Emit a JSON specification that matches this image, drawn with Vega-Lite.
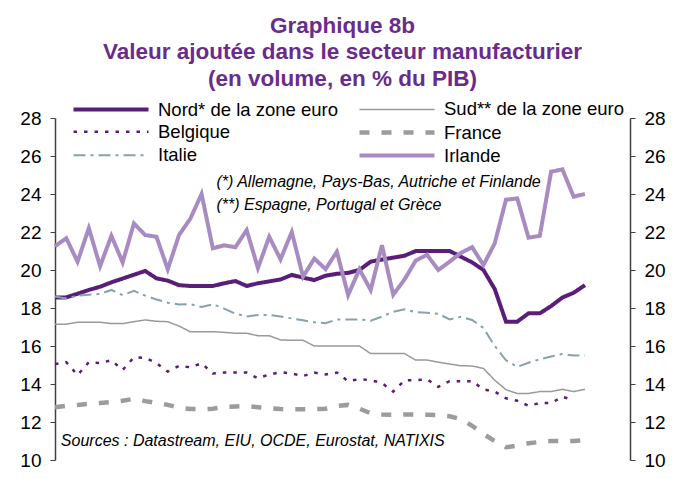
{
  "$schema": "https://vega.github.io/schema/vega-lite/v6.json",
  "width": 575,
  "height": 342,
  "autosize": {"type": "none"},
  "padding": {"left": 55, "top": 118, "right": 54, "bottom": 38},
  "background": "white",
  "config": {"view": {"stroke": null}, "font": "Liberation Sans"},
  "title": {
    "text": ["Graphique 8b", "Valeur ajoutée dans le secteur manufacturier", "(en volume, en % du PIB)"],
    "fontSize": 22.5,
    "font": "Liberation Sans",
    "fontWeight": "bold",
    "color": "#6A2C8C",
    "anchor": "middle",
    "offset": 10,
    "lineHeight": 26.5
  },
  "layer": [
    {
      "data": {
        "values": [
          {"t": 1999.00, "Nord* de la zone euro": 18.55, "Sud** de la zone euro": 17.15, "Belgique": 15.05, "France": 12.78, "Italie": 18.6, "Irlande": 21.25},
          {"t": 1999.25, "Nord* de la zone euro": 18.56, "Sud** de la zone euro": 17.15, "Belgique": 15.15, "France": 12.85, "Italie": 18.5, "Irlande": 21.67},
          {"t": 1999.50, "Nord* de la zone euro": 18.75, "Sud** de la zone euro": 17.25, "Belgique": 14.47, "France": 12.9, "Italie": 18.65, "Irlande": 20.44},
          {"t": 1999.75, "Nord* de la zone euro": 18.95, "Sud** de la zone euro": 17.25, "Belgique": 15.15, "France": 12.95, "Italie": 18.7, "Irlande": 22.2},
          {"t": 2000.00, "Nord* de la zone euro": 19.12, "Sud** de la zone euro": 17.25, "Belgique": 15.1, "France": 13.0, "Italie": 18.74, "Irlande": 20.2},
          {"t": 2000.25, "Nord* de la zone euro": 19.35, "Sud** de la zone euro": 17.18, "Belgique": 15.25, "France": 13.05, "Italie": 18.95, "Irlande": 21.8},
          {"t": 2000.50, "Nord* de la zone euro": 19.55, "Sud** de la zone euro": 17.18, "Belgique": 14.74, "France": 13.12, "Italie": 18.68, "Irlande": 20.4},
          {"t": 2000.75, "Nord* de la zone euro": 19.75, "Sud** de la zone euro": 17.28, "Belgique": 15.4, "France": 13.22, "Italie": 18.9, "Irlande": 22.45},
          {"t": 2001.00, "Nord* de la zone euro": 19.95, "Sud** de la zone euro": 17.37, "Belgique": 15.38, "France": 13.1, "Italie": 18.65, "Irlande": 21.84},
          {"t": 2001.25, "Nord* de la zone euro": 19.56, "Sud** de la zone euro": 17.3, "Belgique": 15.1, "France": 13.0, "Italie": 18.45, "Irlande": 21.75},
          {"t": 2001.50, "Nord* de la zone euro": 19.44, "Sud** de la zone euro": 17.28, "Belgique": 14.65, "France": 12.9, "Italie": 18.28, "Irlande": 20.04},
          {"t": 2001.75, "Nord* de la zone euro": 19.2, "Sud** de la zone euro": 17.05, "Belgique": 14.95, "France": 12.75, "Italie": 18.18, "Irlande": 21.84},
          {"t": 2002.00, "Nord* de la zone euro": 19.16, "Sud** de la zone euro": 16.75, "Belgique": 14.88, "France": 12.68, "Italie": 18.2, "Irlande": 22.7},
          {"t": 2002.25, "Nord* de la zone euro": 19.16, "Sud** de la zone euro": 16.75, "Belgique": 15.09, "France": 12.68, "Italie": 18.05, "Irlande": 24.0},
          {"t": 2002.50, "Nord* de la zone euro": 19.16, "Sud** de la zone euro": 16.75, "Belgique": 14.55, "France": 12.7, "Italie": 18.2, "Irlande": 21.14},
          {"t": 2002.75, "Nord* de la zone euro": 19.3, "Sud** de la zone euro": 16.72, "Belgique": 14.6, "France": 12.78, "Italie": 17.97, "Irlande": 21.3},
          {"t": 2003.00, "Nord* de la zone euro": 19.42, "Sud** de la zone euro": 16.67, "Belgique": 14.6, "France": 12.82, "Italie": 17.7, "Irlande": 21.2},
          {"t": 2003.25, "Nord* de la zone euro": 19.16, "Sud** de la zone euro": 16.67, "Belgique": 14.6, "France": 12.84, "Italie": 17.55, "Irlande": 22.1},
          {"t": 2003.50, "Nord* de la zone euro": 19.3, "Sud** de la zone euro": 16.54, "Belgique": 14.3, "France": 12.78, "Italie": 17.63, "Irlande": 20.1},
          {"t": 2003.75, "Nord* de la zone euro": 19.4, "Sud** de la zone euro": 16.54, "Belgique": 14.5, "France": 12.72, "Italie": 17.63, "Irlande": 21.75},
          {"t": 2004.00, "Nord* de la zone euro": 19.5, "Sud** de la zone euro": 16.32, "Belgique": 14.62, "France": 12.68, "Italie": 17.55, "Irlande": 20.56},
          {"t": 2004.25, "Nord* de la zone euro": 19.74, "Sud** de la zone euro": 16.3, "Belgique": 14.55, "France": 12.67, "Italie": 17.45, "Irlande": 22.0},
          {"t": 2004.50, "Nord* de la zone euro": 19.6, "Sud** de la zone euro": 16.3, "Belgique": 14.42, "France": 12.67, "Italie": 17.35, "Irlande": 19.65},
          {"t": 2004.75, "Nord* de la zone euro": 19.47, "Sud** de la zone euro": 16.0, "Belgique": 14.6, "France": 12.67, "Italie": 17.25, "Irlande": 20.6},
          {"t": 2005.00, "Nord* de la zone euro": 19.7, "Sud** de la zone euro": 16.0, "Belgique": 14.5, "France": 12.7, "Italie": 17.2, "Irlande": 20.05},
          {"t": 2005.25, "Nord* de la zone euro": 19.8, "Sud** de la zone euro": 16.0, "Belgique": 14.6, "France": 12.85, "Italie": 17.4, "Irlande": 20.96},
          {"t": 2005.50, "Nord* de la zone euro": 19.85, "Sud** de la zone euro": 16.0, "Belgique": 14.15, "France": 12.9, "Italie": 17.4, "Irlande": 18.68},
          {"t": 2005.75, "Nord* de la zone euro": 20.0, "Sud** de la zone euro": 16.0, "Belgique": 14.25, "France": 12.7, "Italie": 17.4, "Irlande": 20.04},
          {"t": 2006.00, "Nord* de la zone euro": 20.44, "Sud** de la zone euro": 15.6, "Belgique": 14.2, "France": 12.46, "Italie": 17.33, "Irlande": 18.95},
          {"t": 2006.25, "Nord* de la zone euro": 20.55, "Sud** de la zone euro": 15.6, "Belgique": 14.05, "France": 12.4, "Italie": 17.55, "Irlande": 21.3},
          {"t": 2006.50, "Nord* de la zone euro": 20.65, "Sud** de la zone euro": 15.6, "Belgique": 13.6, "France": 12.37, "Italie": 17.8, "Irlande": 18.7},
          {"t": 2006.75, "Nord* de la zone euro": 20.75, "Sud** de la zone euro": 15.6, "Belgique": 14.2, "France": 12.4, "Italie": 17.93, "Irlande": 19.5},
          {"t": 2007.00, "Nord* de la zone euro": 21.0, "Sud** de la zone euro": 15.26, "Belgique": 14.2, "France": 12.4, "Italie": 17.78, "Irlande": 20.5},
          {"t": 2007.25, "Nord* de la zone euro": 21.0, "Sud** de la zone euro": 15.26, "Belgique": 14.25, "France": 12.38, "Italie": 17.75, "Irlande": 20.8},
          {"t": 2007.50, "Nord* de la zone euro": 21.0, "Sud** de la zone euro": 15.15, "Belgique": 13.85, "France": 12.37, "Italie": 17.7, "Irlande": 20.0},
          {"t": 2007.75, "Nord* de la zone euro": 21.0, "Sud** de la zone euro": 15.05, "Belgique": 14.15, "France": 12.3, "Italie": 17.4, "Irlande": 20.44},
          {"t": 2008.00, "Nord* de la zone euro": 20.7, "Sud** de la zone euro": 14.96, "Belgique": 14.15, "France": 12.15, "Italie": 17.54, "Irlande": 20.9},
          {"t": 2008.25, "Nord* de la zone euro": 20.4, "Sud** de la zone euro": 14.95, "Belgique": 14.15, "France": 11.8, "Italie": 17.37, "Irlande": 21.2},
          {"t": 2008.50, "Nord* de la zone euro": 20.0, "Sud** de la zone euro": 14.82, "Belgique": 13.72, "France": 11.37, "Italie": 16.95, "Irlande": 20.26},
          {"t": 2008.75, "Nord* de la zone euro": 19.0, "Sud** de la zone euro": 14.2, "Belgique": 13.6, "France": 11.0, "Italie": 16.0, "Irlande": 21.4},
          {"t": 2009.00, "Nord* de la zone euro": 17.28, "Sud** de la zone euro": 13.7, "Belgique": 13.25, "France": 10.67, "Italie": 15.25, "Irlande": 23.7},
          {"t": 2009.25, "Nord* de la zone euro": 17.28, "Sud** de la zone euro": 13.5, "Belgique": 13.12, "France": 10.75, "Italie": 14.9, "Irlande": 23.77},
          {"t": 2009.50, "Nord* de la zone euro": 17.72, "Sud** de la zone euro": 13.5, "Belgique": 12.85, "France": 10.88, "Italie": 15.12, "Irlande": 21.7},
          {"t": 2009.75, "Nord* de la zone euro": 17.72, "Sud** de la zone euro": 13.6, "Belgique": 13.0, "France": 10.95, "Italie": 15.3, "Irlande": 21.8},
          {"t": 2010.00, "Nord* de la zone euro": 18.1, "Sud** de la zone euro": 13.6, "Belgique": 13.0, "France": 11.0, "Italie": 15.45, "Irlande": 25.17},
          {"t": 2010.25, "Nord* de la zone euro": 18.55, "Sud** de la zone euro": 13.72, "Belgique": 13.33, "France": 11.0, "Italie": 15.58, "Irlande": 25.3},
          {"t": 2010.50, "Nord* de la zone euro": 18.8, "Sud** de la zone euro": 13.6, "Belgique": 13.15, "France": 11.0, "Italie": 15.5, "Irlande": 23.86},
          {"t": 2010.75, "Nord* de la zone euro": 19.2, "Sud** de la zone euro": 13.72, "Belgique": null, "France": 11.05, "Italie": 15.5, "Irlande": 24.0}
        ]
      },
      "transform": [
        {"fold": ["Nord* de la zone euro", "Sud** de la zone euro", "Belgique", "France", "Italie", "Irlande"], "as": ["series", "v"]}
      ],
      "mark": {"type": "line"},
      "encoding": {
        "x": {
          "field": "t",
          "type": "quantitative",
          "scale": {"domain": [1999, 2011.75], "nice": false, "zero": false},
          "axis": {
            "values": [1999, 2000, 2001, 2002, 2003, 2004, 2005, 2006, 2007, 2008, 2009, 2010, 2011],
            "labelExpr": "substring(toString(datum.value), 2)",
            "title": null,
            "grid": false,
            "tickSize": 5,
            "labelFontSize": 19,
            "labelFont": "Liberation Sans",
            "labelColor": "black",
            "labelPadding": 3,
            "labelFlush": false,
            "labelOverlap": false,
            "domainColor": "#404040",
            "tickColor": "#404040",
            "domainWidth": 1.5
          }
        },
        "y": {
          "field": "v",
          "type": "quantitative",
          "scale": {"domain": [10, 28], "nice": false, "zero": false},
          "axis": {
            "values": [10, 12, 14, 16, 18, 20, 22, 24, 26, 28],
            "title": null,
            "grid": false,
            "tickSize": 5,
            "labelFontSize": 19,
            "labelFont": "Liberation Sans",
            "labelColor": "black",
            "labelPadding": 9,
            "domainColor": "#404040",
            "tickColor": "#404040",
            "domainWidth": 1.5
          }
        },
        "color": {
          "field": "series",
          "type": "nominal",
          "scale": {
            "domain": ["Nord* de la zone euro", "Sud** de la zone euro", "Belgique", "France", "Italie", "Irlande"],
            "range": ["#5A1E79", "#999999", "#5A1E79", "#9C9C9C", "#87A1AF", "#A88BC1"]
          },
          "legend": {
            "orient": "none",
            "legendX": 18,
            "legendY": -18,
            "direction": "horizontal",
            "columns": 2,
            "title": null,
            "symbolType": "M-5,0H5",
            "symbolSize": 225,
            "symbolOffset": 28,
            "labelOffset": 37,
            "labelFontSize": 18.5,
            "labelFont": "Liberation Sans",
            "labelColor": "black",
            "labelLimit": 400,
            "columnPadding": 12,
            "rowPadding": 3.5,
            "padding": 0
          }
        },
        "strokeDash": {
          "field": "series",
          "type": "nominal",
          "scale": {
            "domain": ["Nord* de la zone euro", "Sud** de la zone euro", "Belgique", "France", "Italie", "Irlande"],
            "range": [[1, 0], [1, 0], [3.5, 7], [10, 12], [12, 5, 3, 5], [1, 0]]
          }
        },
        "strokeWidth": {
          "field": "series",
          "type": "nominal",
          "scale": {
            "type": "ordinal",
            "domain": ["Nord* de la zone euro", "Sud** de la zone euro", "Belgique", "France", "Italie", "Irlande"],
            "range": [4, 1.5, 2.5, 4.5, 2, 4]
          }
        }
      }
    },
    {
      "data": {"values": [{"note": "(*) Allemagne, Pays-Bas, Autriche et Finlande"}]},
      "mark": {"type": "text", "align": "left", "baseline": "middle", "font": "Liberation Sans", "fontStyle": "italic", "fontSize": 16, "color": "black"},
      "encoding": {
        "x": {"datum": 2002.58, "type": "quantitative", "axis": null},
        "y": {
          "datum": 24.65,
          "type": "quantitative",
          "axis": {
            "orient": "right",
            "values": [10, 12, 14, 16, 18, 20, 22, 24, 26, 28],
            "title": null,
            "grid": false,
            "tickSize": 5,
            "labelFontSize": 19,
            "labelFont": "Liberation Sans",
            "labelColor": "black",
            "labelPadding": 9,
            "domainColor": "#404040",
            "tickColor": "#404040",
            "domainWidth": 1.5
          }
        },
        "text": {"field": "note"}
      }
    },
    {
      "data": {"values": [{"note": "(**) Espagne, Portugal et Grèce"}]},
      "mark": {"type": "text", "align": "left", "baseline": "middle", "font": "Liberation Sans", "fontStyle": "italic", "fontSize": 16, "color": "black"},
      "encoding": {
        "x": {"datum": 2002.58, "type": "quantitative", "axis": null},
        "y": {"datum": 23.42, "type": "quantitative", "axis": null},
        "text": {"field": "note"}
      }
    },
    {
      "data": {"values": [{"note": "Sources : Datastream, EIU, OCDE,  Eurostat, NATIXIS"}]},
      "mark": {"type": "text", "align": "left", "baseline": "middle", "font": "Liberation Sans", "fontStyle": "italic", "fontSize": 16, "color": "black"},
      "encoding": {
        "x": {"datum": 1999.13, "type": "quantitative", "axis": null},
        "y": {"datum": 11.0, "type": "quantitative", "axis": null},
        "text": {"field": "note"}
      }
    }
  ],
  "resolve": {"axis": {"y": "independent"}}
}
